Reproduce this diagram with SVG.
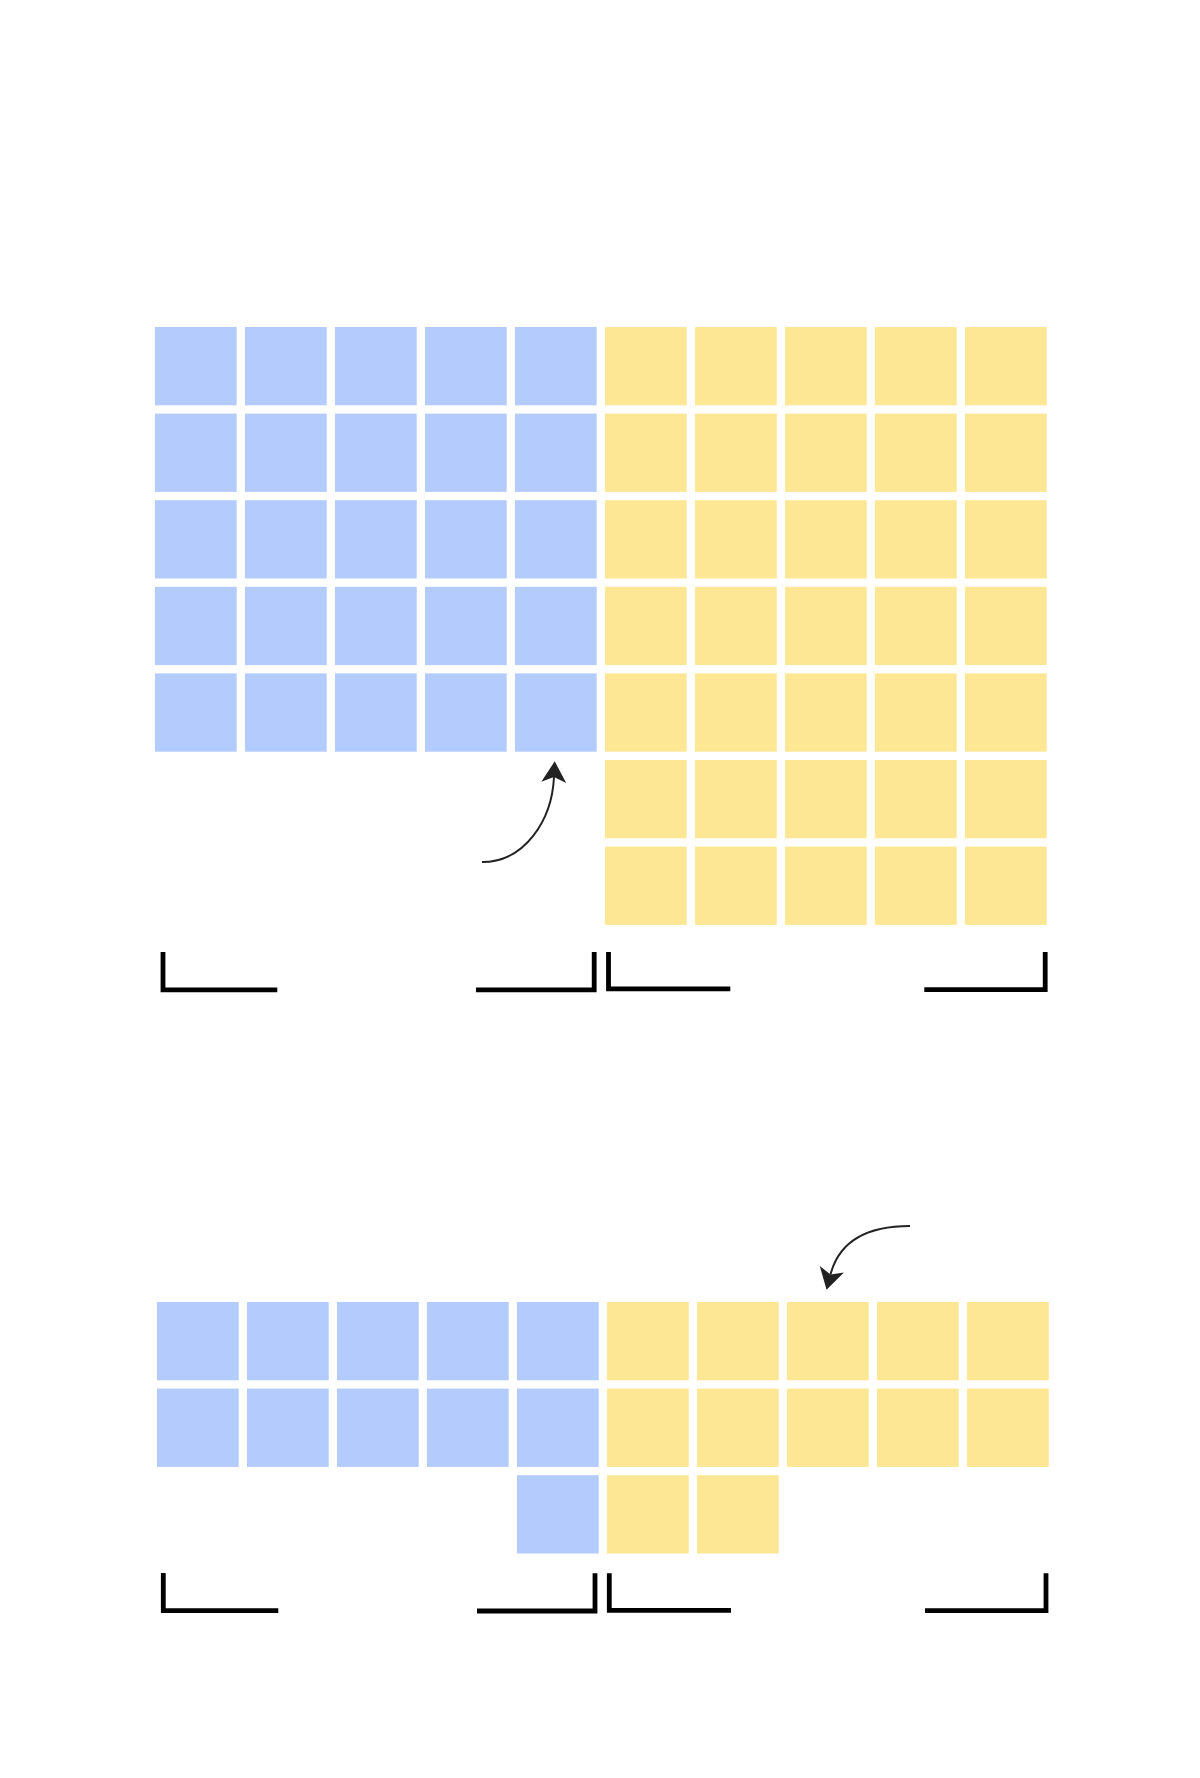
<svg xmlns="http://www.w3.org/2000/svg" width="1200" height="1778" viewBox="0 0 1200 1778">
<defs>
<style>
.b{fill:#b4cbfd}
.y{fill:#fde694}
.br{fill:none;stroke:#000;stroke-width:4.8;stroke-linejoin:miter;stroke-linecap:butt}
.cv{fill:none;stroke:#222;stroke-width:2}
</style>
<marker id="ah" markerUnits="userSpaceOnUse" markerWidth="24" markerHeight="26" viewBox="0 -12 20 24" refX="5" refY="0" orient="auto">
<path d="M0,-11.5 L19.5,0 L0,11.5 L5,0 z" fill="#222"/>
</marker>
<rect id="c" width="81.7" height="78.3"/>
</defs>
<rect width="1200" height="1778" fill="#fff"/>
<g id="top-grid">
<g id="top-blue" class="b">
<use href="#c" x="155" y="327"/><use href="#c" x="245" y="327"/><use href="#c" x="335" y="327"/><use href="#c" x="425" y="327"/><use href="#c" x="515" y="327"/>
<use href="#c" x="155" y="413.6"/><use href="#c" x="245" y="413.6"/><use href="#c" x="335" y="413.6"/><use href="#c" x="425" y="413.6"/><use href="#c" x="515" y="413.6"/>
<use href="#c" x="155" y="500.2"/><use href="#c" x="245" y="500.2"/><use href="#c" x="335" y="500.2"/><use href="#c" x="425" y="500.2"/><use href="#c" x="515" y="500.2"/>
<use href="#c" x="155" y="586.8"/><use href="#c" x="245" y="586.8"/><use href="#c" x="335" y="586.8"/><use href="#c" x="425" y="586.8"/><use href="#c" x="515" y="586.8"/>
<use href="#c" x="155" y="673.4"/><use href="#c" x="245" y="673.4"/><use href="#c" x="335" y="673.4"/><use href="#c" x="425" y="673.4"/><use href="#c" x="515" y="673.4"/>
</g>
<g id="top-yellow" class="y">
<use href="#c" x="605" y="327"/><use href="#c" x="695" y="327"/><use href="#c" x="785" y="327"/><use href="#c" x="875" y="327"/><use href="#c" x="965" y="327"/>
<use href="#c" x="605" y="413.6"/><use href="#c" x="695" y="413.6"/><use href="#c" x="785" y="413.6"/><use href="#c" x="875" y="413.6"/><use href="#c" x="965" y="413.6"/>
<use href="#c" x="605" y="500.2"/><use href="#c" x="695" y="500.2"/><use href="#c" x="785" y="500.2"/><use href="#c" x="875" y="500.2"/><use href="#c" x="965" y="500.2"/>
<use href="#c" x="605" y="586.8"/><use href="#c" x="695" y="586.8"/><use href="#c" x="785" y="586.8"/><use href="#c" x="875" y="586.8"/><use href="#c" x="965" y="586.8"/>
<use href="#c" x="605" y="673.4"/><use href="#c" x="695" y="673.4"/><use href="#c" x="785" y="673.4"/><use href="#c" x="875" y="673.4"/><use href="#c" x="965" y="673.4"/>
<use href="#c" x="605" y="760"/><use href="#c" x="695" y="760"/><use href="#c" x="785" y="760"/><use href="#c" x="875" y="760"/><use href="#c" x="965" y="760"/>
<use href="#c" x="605" y="846.6"/><use href="#c" x="695" y="846.6"/><use href="#c" x="785" y="846.6"/><use href="#c" x="875" y="846.6"/><use href="#c" x="965" y="846.6"/>
</g>
</g>
<g id="top-brackets" class="br">
<path d="M163,952 V989.8 H277.3"/>
<path d="M476,989.8 H594.2 V952"/>
<path d="M608.5,952 V988.8 H730.3"/>
<path d="M924.3,989.7 H1045.2 V952"/>
</g>
<g id="bottom-grid">
<g id="bottom-blue" class="b">
<use href="#c" x="157" y="1302"/><use href="#c" x="247" y="1302"/><use href="#c" x="337" y="1302"/><use href="#c" x="427" y="1302"/><use href="#c" x="517" y="1302"/>
<use href="#c" x="157" y="1388.6"/><use href="#c" x="247" y="1388.6"/><use href="#c" x="337" y="1388.6"/><use href="#c" x="427" y="1388.6"/><use href="#c" x="517" y="1388.6"/>
<use href="#c" x="517" y="1475.2"/>
</g>
<g id="bottom-yellow" class="y">
<use href="#c" x="607" y="1302"/><use href="#c" x="697" y="1302"/><use href="#c" x="787" y="1302"/><use href="#c" x="877" y="1302"/><use href="#c" x="967" y="1302"/>
<use href="#c" x="607" y="1388.6"/><use href="#c" x="697" y="1388.6"/><use href="#c" x="787" y="1388.6"/><use href="#c" x="877" y="1388.6"/><use href="#c" x="967" y="1388.6"/>
<use href="#c" x="607" y="1475.2"/><use href="#c" x="697" y="1475.2"/>
</g>
</g>
<g id="bottom-brackets" class="br">
<path d="M163.3,1573 V1610.7 H278.3"/>
<path d="M477,1611 H595 V1573.3"/>
<path d="M609.3,1573.3 V1610.3 H731"/>
<path d="M925,1610.7 H1046 V1573.3"/>
</g>
<g id="connectors">
<path class="cv" d="M482,862 C525,862 552,820 554,777" marker-end="url(#ah)"/>
<path class="cv" d="M910,1226 C872,1226 840,1238 830.5,1274.5" marker-end="url(#ah)"/>
</g>
</svg>
